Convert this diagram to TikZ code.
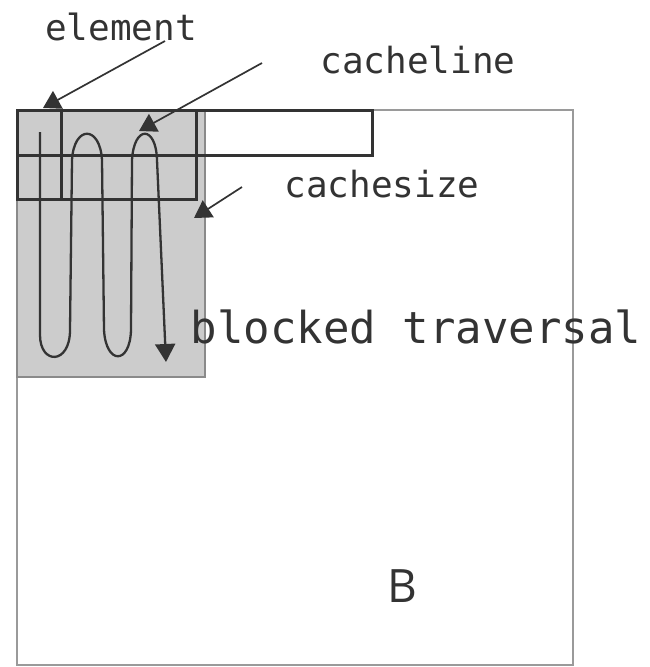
\documentclass[tikz,border=0pt]{standalone}
\usepackage{fontspec}
\newfontfamily\monof{DejaVu Sans Mono}
\newfontfamily\bfont{Open Sans}
\usetikzlibrary{arrows.meta}
\definecolor{ink}{HTML}{333333}
\definecolor{cachegray}{HTML}{CCCCCC}
\definecolor{cacheedge}{HTML}{8A8A8A}
\definecolor{squareedge}{HTML}{9A9A9A}
\tikzset{
  lbl/.style={inner sep=0pt, anchor=base, text=ink, font=\monof\fontsize{36}{40}\selectfont},
  biglbl/.style={inner sep=0pt, anchor=base, text=ink, font=\monof\fontsize{44}{48}\selectfont},
  blbl/.style={inner sep=0pt, anchor=base, text=ink, font=\bfont\fontsize{46}{50}\selectfont},
  leader/.style={draw=ink, line width=1.7pt, -{Triangle[length=17pt,width=20pt]}},
  box/.style={draw=ink, line width=3pt},
  serp/.style={draw=ink, line width=2.3pt, line join=round, -{Triangle[length=18pt,width=20pt]}}
}
\begin{document}
\begin{tikzpicture}[x=1pt,y=-1pt]
\useasboundingbox (0,0) rectangle (649,667);
% big square B
\draw[draw=squareedge, line width=1.8pt] (17,110) rectangle (573,665);
% cachesize gray block
\filldraw[fill=cachegray, draw=cacheedge, line width=2pt] (17,110) rectangle (205,377);
% cacheline, inner block, element
\fill[white] (206,111.5) rectangle (372,155);
\draw[box] (17,110) rectangle (372,155);
\draw[box] (17,110) rectangle (196,199);
\draw[box] (17,110) rectangle (61,199);
% named target points
\coordinate (elemtip) at (43,108);
\coordinate (linetip) at (139,131);
\coordinate (sizetip) at (194,218);
\coordinate (elemtail) at (165,41);
\coordinate (linetail) at (262,63);
\coordinate (sizetail) at (242,187);
\coordinate (serpstart) at (40,132);
\coordinate (serpend) at (166,362);
% serpentine traversal
\draw[serp] (serpstart) -- (40,335) .. controls (40,365) and (70,365) .. (70,330)
  -- (72,160) .. controls (74,125) and (100,125) .. (102,160)
  -- (104,330) .. controls (106,365) and (130,365) .. (131,330)
  -- (132,160) .. controls (134,125) and (156,125) .. (157,160)
  -- (serpend);
% labels
\node[lbl] (element) at (121,40) {element};
\node[lbl] (cacheline) at (418,73) {cacheline};
\node[lbl] (cachesize) at (382,197) {cachesize};
\node[biglbl] (blocked) at (416,343) {blocked traversal};
\node[blbl] (B) at (402,602) {B};
% leaders
\draw[leader] (elemtail) -- (elemtip);
\draw[leader] (linetail) -- (linetip);
\draw[leader] (sizetail) -- (sizetip);
\end{tikzpicture}
\end{document}
